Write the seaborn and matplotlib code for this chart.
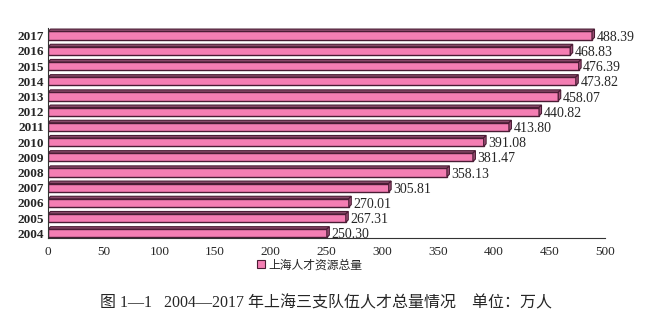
import matplotlib
matplotlib.use("Agg")
import matplotlib.pyplot as plt
import seaborn as sns
import pandas as pd
from matplotlib.patches import Patch, Polygon

years = ["2004", "2005", "2006", "2007", "2008", "2009", "2010",
         "2011", "2012", "2013", "2014", "2015", "2016", "2017"]
values = [250.30, 267.31, 270.01, 305.81, 358.13, 381.47, 391.08,
          413.80, 440.82, 458.07, 473.82, 476.39, 468.83, 488.39]
legend_label = "上海人才资源总量"
caption = "图 1—1   2004—2017 年上海三支队伍人才总量情况    单位：万人"

sns.set_style("white")
plt.rcParams['font.family'] = ['Liberation Serif', 'Noto Sans CJK SC', 'DejaVu Sans']

df = pd.DataFrame({"year": years, "value": values})
order = years[::-1]

fig = plt.figure(figsize=(6.59, 3.21), dpi=100)
ax = fig.add_axes([0.073, 0.259, 0.845, 0.654])
pink = "#f47eb3"
dark = "#4a1c34"
sns.barplot(data=df, x="value", y="year", order=order, orient="h",
            color=pink, edgecolor=dark, linewidth=1.0, width=0.55,
            saturation=1, ax=ax)

# 3D-like top face and end cap derived from bar geometry
for p in ax.patches:
    x0, y0 = p.get_x(), p.get_y()
    w, h = p.get_width(), p.get_height()
    dx, dy = 2.2, 0.16
    top = Polygon([(x0, y0), (x0 + dx, y0 - dy), (x0 + w + dx, y0 - dy), (x0 + w, y0)],
                  closed=True, facecolor="#8a4a6a", edgecolor=dark, linewidth=0.8)
    end = Polygon([(x0 + w, y0), (x0 + w + dx, y0 - dy), (x0 + w + dx, y0 + h - dy), (x0 + w, y0 + h)],
                  closed=True, facecolor="#a05078", edgecolor=dark, linewidth=0.8)
    ax.add_patch(top)
    ax.add_patch(end)

for i, y in enumerate(order):
    v = values[years.index(y)]
    ax.text(v + 4, i + 0.1, f"{v:.2f}", va="center", ha="left", fontsize=10,
            family=['Liberation Serif', 'DejaVu Serif'])

ax.set_xlim(0, 500)
ax.set_ylim(13.3, -0.51)
ax.set_xticks(range(0, 501, 50))
ax.set_xlabel("")
ax.set_ylabel("")
ax.tick_params(axis="x", direction="in", length=4, labelsize=9.5, pad=6, color="#333333")
ax.tick_params(axis="y", length=0, labelsize=9.5, pad=3)
for lab in ax.get_yticklabels():
    lab.set_fontweight("bold")
for s in ["top", "right"]:
    ax.spines[s].set_visible(False)
ax.spines["left"].set_color("#333333")
ax.spines["bottom"].set_color("#333333")

handles = [Patch(facecolor=pink, edgecolor=dark, linewidth=0.8)]
fig.legend(handles, [legend_label], loc="center", bbox_to_anchor=(0.47, 0.175),
           frameon=False, handlelength=0.7, handleheight=0.7,
           handletextpad=0.3, prop={'family': ['Noto Sans CJK SC'], 'size': 8.5})

fig.text(0.495, 0.056, caption, ha="center", va="center", fontsize=11.5,
         family=['Liberation Serif', 'Noto Sans CJK SC'])

fig.savefig("out.png", dpi=100)
